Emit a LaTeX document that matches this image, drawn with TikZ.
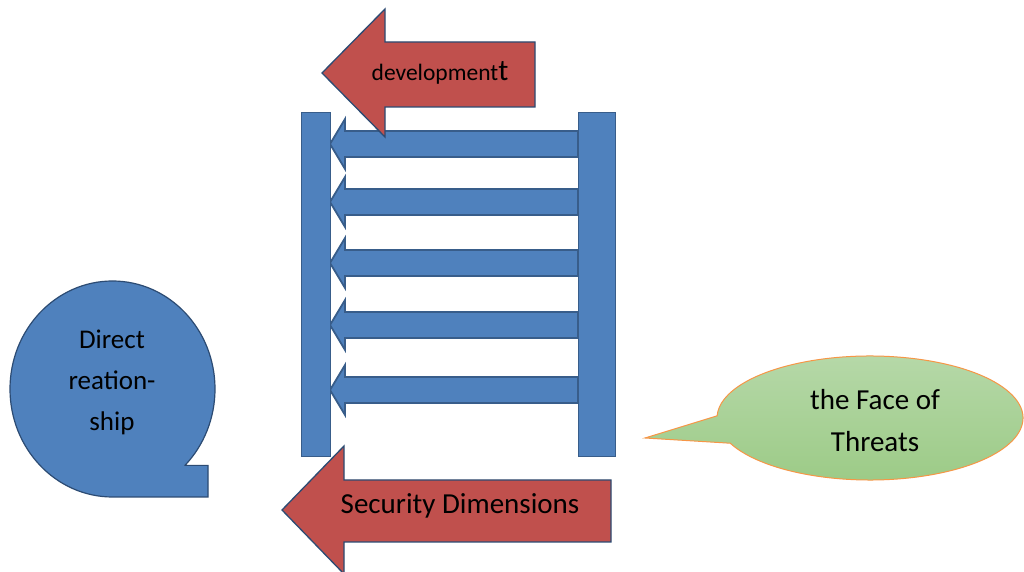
\documentclass[tikz,border=0pt]{standalone}
\usepackage{fontspec}
\setmainfont{Carlito}
\definecolor{blueF}{HTML}{4F81BD}
\definecolor{blueD}{HTML}{385D8A}
\definecolor{redF}{HTML}{C0504D}
\definecolor{navyD}{HTML}{2C4B73}
\definecolor{greenT}{HTML}{B7D9AA}
\definecolor{greenB}{HTML}{9BCA85}
\definecolor{orangeD}{HTML}{F79646}
\begin{document}
\begin{tikzpicture}[x=1pt,y=1pt,
  bar/.style={fill=blueF, draw=blueD, line width=1pt},
  ladderarrow/.style={fill=blueF, draw=blueD, line width=1.8pt, line join=miter},
  redarrow/.style={fill=redF, draw=navyD, line width=1.3pt, line join=miter},
  bubble/.style={fill=blueF, draw=navyD, line width=1.2pt},
  greenbubble/.style={top color=greenT, bottom color=greenB, draw=orangeD, line width=1pt},
  lbl/.style={text=black, align=center, inner sep=0pt}]
\useasboundingbox (0,0) rectangle (1024,572);
\fill[white] (0,0) rectangle (1024,572);

% ladder arrows
\foreach \yy [count=\i] in {428,370,309,247,182}{
  \path[ladderarrow] (330,\yy) -- (345,\yy+25) -- (345,\yy+13) -- (578,\yy+13)
     -- (578,\yy-13) -- (345,\yy-13) -- (345,\yy-25) -- cycle;
}
% bars
\path[bar] (301,115) rectangle (330,459);
\path[bar] (578,115) rectangle (615,459);

% round callout (left)
\path[bubble] (185,106.6) -- (208,106.6) -- (208,75) -- (112.5,75)
  arc[start angle=-90, end angle=-405, x radius=102.5, y radius=108] -- cycle;
\node[lbl, font=\fontsize{27}{41}\selectfont] (direct) at (112,190) {Direct\\reation-\\ship};

% green callout (right)
\path[greenbubble] (645,134) -- ([shift={(870,154)}]204:153 and 62)
  arc[start angle=204, end angle=538, x radius=153, y radius=62] -- cycle;
\node[lbl, font=\fontsize{29}{42}\selectfont] (threats) at (875,151) {the Face of\\Threats};

% top red arrow
\path[redarrow] (322,499) -- (385,563) -- (385,530) -- (535,530) -- (535,465)
  -- (385,465) -- (385,435) -- cycle;
\node[lbl, font=\fontsize{23.5}{27}\selectfont] (dev) at (440,499) {development{\fontsize{30}{30}\selectfont t}};

% bottom red arrow
\path[redarrow] (282,62) -- (344,126) -- (344,92) -- (611,92) -- (611,30)
  -- (344,30) -- (344,-2) -- cycle;
\node[lbl, font=\fontsize{29}{33}\selectfont] (sec) at (460,66) {Security Dimensions};
\end{tikzpicture}
\end{document}
